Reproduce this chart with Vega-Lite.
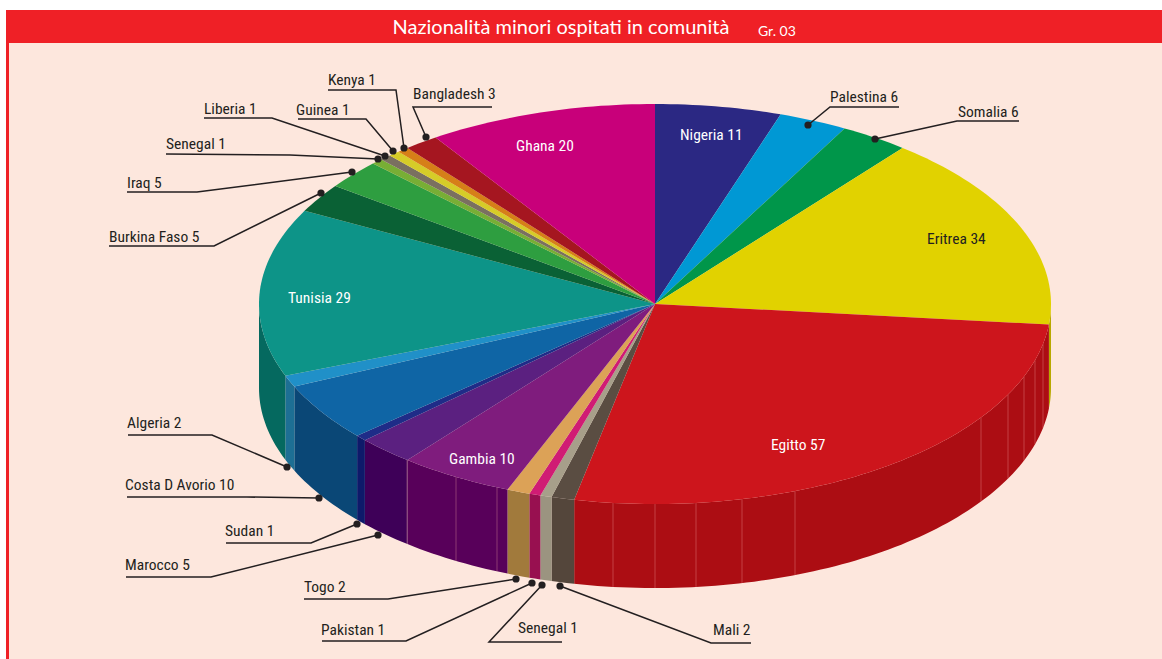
{"$schema":"https://vega.github.io/schema/vega-lite/v6.json","width":1162,"height":659,"autosize":{"type":"none"},"padding":0,"background":"#ffffff",
"title":{"text":"Nazionalità minori ospitati in comunità","font":"Lato","fontSize":20,"fontWeight":"normal","color":"#ffffff","anchor":"middle","dx":-20,"offset":-54,"baseline":"alphabetic"},
"config":{"view":{"stroke":null}},
"datasets":{
"fette":[{"id":"Nigeria","minori":11},{"id":"Palestina","minori":6},{"id":"Somalia","minori":6},{"id":"Eritrea","minori":34},{"id":"Egitto","minori":57},{"id":"Mali","minori":2},{"id":"Senegal B","minori":1},{"id":"Pakistan","minori":1},{"id":"Togo","minori":2},{"id":"Gambia","minori":10},{"id":"Marocco","minori":5},{"id":"Sudan","minori":1},{"id":"Costa D Avorio","minori":10},{"id":"Algeria","minori":2},{"id":"Tunisia","minori":29},{"id":"Burkina Faso","minori":5},{"id":"Iraq","minori":5},{"id":"Senegal A","minori":1},{"id":"Liberia","minori":1},{"id":"Guinea","minori":1},{"id":"Kenya","minori":1},{"id":"Bangladesh","minori":3},{"id":"Ghana","minori":20}],
"cornice":[{"x":0,"x2":1162,"y":0,"y2":659,"p":"a"},{"x":6,"x2":1162,"y":10,"y2":43,"p":"b"},{"x":6,"x2":9,"y":10,"y2":659,"p":"b"},{"x":9,"x2":1162,"y":43,"y2":659,"p":"c"}],
"pieghe":[{"x":407},{"x":456},{"x":497},{"x":613},{"x":655},{"x":696},{"x":742},{"x":795},{"x":981},{"x":1008},{"x":1024},{"x":1035},{"x":1043}],
"guide":[
{"g":"Bangladesh","i":0,"x":426,"y":137},{"g":"Bangladesh","i":1,"x":413,"y":107},{"g":"Bangladesh","i":2,"x":492,"y":107},
{"g":"Kenya","i":0,"x":404,"y":148},{"g":"Kenya","i":1,"x":396,"y":90},{"g":"Kenya","i":2,"x":328,"y":90},
{"g":"Guinea","i":0,"x":393,"y":151},{"g":"Guinea","i":1,"x":366,"y":119},{"g":"Guinea","i":2,"x":298,"y":119},
{"g":"Liberia","i":0,"x":385,"y":156},{"g":"Liberia","i":1,"x":272,"y":118},{"g":"Liberia","i":2,"x":204,"y":118},
{"g":"Senegal A","i":0,"x":378,"y":159},{"g":"Senegal A","i":1,"x":290,"y":155},{"g":"Senegal A","i":2,"x":166,"y":154},
{"g":"Iraq","i":0,"x":352,"y":172},{"g":"Iraq","i":1,"x":197,"y":192},{"g":"Iraq","i":2,"x":127,"y":192},
{"g":"Burkina Faso","i":0,"x":321,"y":193},{"g":"Burkina Faso","i":1,"x":214,"y":246},{"g":"Burkina Faso","i":2,"x":109,"y":246},
{"g":"Algeria","i":0,"x":287,"y":467},{"g":"Algeria","i":1,"x":212,"y":435},{"g":"Algeria","i":2,"x":128,"y":435},
{"g":"Costa D Avorio","i":0,"x":319,"y":498},{"g":"Costa D Avorio","i":1,"x":247,"y":497},{"g":"Costa D Avorio","i":2,"x":127,"y":497},
{"g":"Sudan","i":0,"x":357,"y":524},{"g":"Sudan","i":1,"x":311,"y":543},{"g":"Sudan","i":2,"x":226,"y":543},
{"g":"Marocco","i":0,"x":378,"y":535},{"g":"Marocco","i":1,"x":211,"y":577},{"g":"Marocco","i":2,"x":126,"y":577},
{"g":"Togo","i":0,"x":516,"y":579},{"g":"Togo","i":1,"x":388,"y":599},{"g":"Togo","i":2,"x":304,"y":599},
{"g":"Pakistan","i":0,"x":532,"y":583},{"g":"Pakistan","i":1,"x":406,"y":641},{"g":"Pakistan","i":2,"x":322,"y":641},
{"g":"Senegal B","i":0,"x":542,"y":585},{"g":"Senegal B","i":1,"x":489,"y":642},{"g":"Senegal B","i":2,"x":562,"y":642},
{"g":"Mali","i":0,"x":560,"y":586},{"g":"Mali","i":1,"x":711,"y":643},{"g":"Mali","i":2,"x":751,"y":643},
{"g":"Somalia","i":0,"x":875,"y":139},{"g":"Somalia","i":1,"x":957,"y":121},{"g":"Somalia","i":2,"x":1019,"y":121},
{"g":"Palestina","i":0,"x":808,"y":125},{"g":"Palestina","i":1,"x":830,"y":107},{"g":"Palestina","i":2,"x":899,"y":107}],
"etichette":[
{"t":"Bangladesh 3","x":413,"y":99,"c":"fuori"},{"t":"Kenya 1","x":328,"y":85,"c":"fuori"},{"t":"Guinea 1","x":296,"y":115,"c":"fuori"},{"t":"Liberia 1","x":204,"y":114,"c":"fuori"},{"t":"Senegal 1","x":166,"y":149,"c":"fuori"},{"t":"Iraq 5","x":127,"y":188,"c":"fuori"},{"t":"Burkina Faso 5","x":109,"y":242,"c":"fuori"},{"t":"Algeria 2","x":127,"y":428,"c":"fuori"},{"t":"Costa D Avorio 10","x":125,"y":490,"c":"fuori"},{"t":"Sudan 1","x":225,"y":536,"c":"fuori"},{"t":"Marocco 5","x":125,"y":570,"c":"fuori"},{"t":"Togo 2","x":304,"y":592,"c":"fuori"},{"t":"Pakistan 1","x":321,"y":635,"c":"fuori"},{"t":"Senegal 1","x":518,"y":633,"c":"fuori"},{"t":"Mali 2","x":713,"y":635,"c":"fuori"},{"t":"Palestina 6","x":830,"y":102,"c":"fuori"},{"t":"Somalia 6","x":958,"y":117,"c":"fuori"},{"t":"Eritrea 34","x":927,"y":244,"c":"fuori"},
{"t":"Nigeria 11","x":680,"y":140,"c":"dentro"},{"t":"Ghana 20","x":516,"y":151,"c":"dentro"},{"t":"Tunisia 29","x":288,"y":303,"c":"dentro"},{"t":"Gambia 10","x":449,"y":464,"c":"dentro"},{"t":"Egitto 57","x":771,"y":450,"c":"dentro"}]
},
"encoding":{"x":{"field":"x","type":"quantitative","axis":null,"scale":{"domain":[0,1162],"nice":false,"zero":false}},"y":{"field":"y","type":"quantitative","axis":null,"scale":{"domain":[0,659],"reverse":true,"nice":false,"zero":false}}},
"layer":[
{"data":{"name":"cornice"},"mark":{"type":"rect"},"encoding":{"x2":{"field":"x2"},"y2":{"field":"y2"},"fill":{"field":"p","type":"nominal","legend":null,"scale":{"domain":["a","b","c"],"range":["#ffffff","#EF2026","#FDE7DD"]}}}},
{"data":{"name":"fette"},
"transform":[
{"window":[{"op":"sum","field":"minori","as":"cum"}],"frame":[null,0]},
{"joinaggregate":[{"op":"sum","field":"minori","as":"tot"}]},
{"calculate":"max((datum.cum-datum.minori)/datum.tot*2*PI,PI/2)","as":"lo"},
{"calculate":"min(datum.cum/datum.tot*2*PI,3*PI/2)","as":"hi"},
{"filter":"datum.lo<datum.hi"},
{"calculate":"ceil((datum.hi-datum.lo)/0.02)","as":"n"},
{"calculate":"sequence(0,2*datum.n+2)","as":"k"},
{"flatten":["k"]},
{"calculate":"datum.k<=datum.n?datum.k:2*datum.n+1-datum.k","as":"u"},
{"calculate":"datum.lo+(datum.hi-datum.lo)*datum.u/datum.n","as":"th"},
{"calculate":"655+396*sin(datum.th)","as":"x"},
{"calculate":"304-200*cos(datum.th)+(datum.k<=datum.n?0:84)","as":"y"}],
"mark":{"type":"line","interpolate":"linear","strokeWidth":0},
"encoding":{"order":{"field":"k","type":"quantitative"},"detail":{"field":"id"},"fill":{"field":"id","type":"nominal","legend":null,"sort":null,"scale":{"domain":["Eritrea","Egitto","Mali","Senegal B","Pakistan","Togo","Gambia","Marocco","Sudan","Costa D Avorio","Algeria","Tunisia"],"range":["#B8A800","#AC0D13","#54463B","#9B9480","#981050","#A17A3C","#58005A","#3E0058","#0E1A6A","#0A4776","#1D6F94","#05695F"]}}}},
{"data":{"name":"pieghe"},
"transform":[{"calculate":"304+200*sqrt(1-pow((datum.x-655)/396,2))","as":"y"},{"calculate":"datum.y+84","as":"y2"}],
"mark":{"type":"rule","stroke":"#F0A0A0","strokeWidth":1,"opacity":0.35},
"encoding":{"y2":{"field":"y2"}}},
{"data":{"name":"fette"},
"transform":[
{"window":[{"op":"sum","field":"minori","as":"cum"}],"frame":[null,0]},
{"joinaggregate":[{"op":"sum","field":"minori","as":"tot"}]},
{"calculate":"(datum.cum-datum.minori)/datum.tot*2*PI","as":"a0"},
{"calculate":"datum.cum/datum.tot*2*PI","as":"a1"},
{"calculate":"ceil((datum.a1-datum.a0)/0.02)","as":"n"},
{"calculate":"sequence(-1,datum.n+1)","as":"k"},
{"flatten":["k"]},
{"calculate":"datum.a0+(datum.a1-datum.a0)*datum.k/datum.n","as":"th"},
{"calculate":"datum.k<0?655:655+396*sin(datum.th)","as":"x"},
{"calculate":"datum.k<0?304:304-200*cos(datum.th)","as":"y"}],
"mark":{"type":"line","interpolate":"linear","strokeWidth":0},
"encoding":{"order":{"field":"k","type":"quantitative"},"detail":{"field":"id"},"fill":{"field":"id","type":"nominal","legend":null,"sort":null,"scale":{"domain":["Nigeria","Palestina","Somalia","Eritrea","Egitto","Mali","Senegal B","Pakistan","Togo","Gambia","Marocco","Sudan","Costa D Avorio","Algeria","Tunisia","Burkina Faso","Iraq","Senegal A","Liberia","Guinea","Kenya","Bangladesh","Ghana"],"range":["#2B2883","#0098D4","#00964A","#E1D200","#CD151C","#5A4D42","#A79F8A","#D01C74","#DCA257","#7F1C7D","#5B2080","#1F2C88","#0F65A5","#2090C8","#0D9488","#0A6135","#2E9E40","#78AE35","#7A7060","#D6CC28","#D67F18","#A51620","#C8007A"]}}}},
{"data":{"name":"guide"},"mark":{"type":"line","stroke":"#231F20","strokeWidth":1.5},"encoding":{"order":{"field":"i","type":"quantitative"},"detail":{"field":"g"}}},
{"data":{"name":"guide"},"transform":[{"filter":"datum.i==0"}],"mark":{"type":"point","filled":true,"fill":"#231F20","opacity":1,"size":52,"shape":"circle"}},
{"data":{"name":"etichette"},"mark":{"type":"text","align":"left","baseline":"alphabetic","font":"Roboto Condensed, Lato, sans-serif","fontSize":15.5},"encoding":{"text":{"field":"t"},"color":{"field":"c","type":"nominal","legend":null,"scale":{"domain":["fuori","dentro"],"range":["#231F20","#ffffff"]}}}},
{"data":{"values":[{"t":"Gr. 03","x":758,"y":36}]},"mark":{"type":"text","align":"left","baseline":"alphabetic","font":"Lato","fontSize":14,"color":"#ffffff"},"encoding":{"text":{"field":"t"}}}
],
"resolve":{"scale":{"fill":"independent"}}}
